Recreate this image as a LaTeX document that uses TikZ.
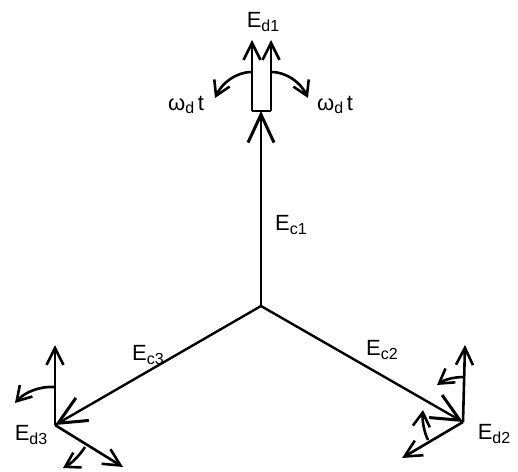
\documentclass[tikz,border=0pt]{standalone}
\usepackage{fontspec}
\setmainfont{Liberation Sans}
\usetikzlibrary{arrows.meta}
\newcommand{\lsub}[1]{\raisebox{-0.3ex}{\fontsize{16}{16}\selectfont #1}}
\tikzset{
  vec/.style={line width=2.6pt, -{Straight Barb[length=17pt,width=17pt,line width=2.6pt]}},
  bigvec/.style={line width=2.4pt, -{Straight Barb[length=28pt,width=26pt,line width=3pt]}},
  rot/.style={line width=2.6pt, -{Straight Barb[length=14pt,width=17pt,line width=2.6pt]}},
  lab/.style={font=\fontsize{22}{22}\selectfont, inner sep=0pt}
}
\begin{document}
\begin{tikzpicture}[x=1pt,y=-1pt]
\useasboundingbox (0,0) rectangle (518,471);
% points
\coordinate (o) at (261,306);
\coordinate (rb) at (261,111);
\coordinate (rl) at (252,111);
\coordinate (rr) at (271,111);
\coordinate (tl) at (252,40);
\coordinate (tr) at (271,40);
\coordinate (d3) at (55,425);
\coordinate (d3u) at (55,345);
\coordinate (d3r) at (123,467);
\coordinate (d2) at (463,422);
\coordinate (d2u) at (465,345);
\coordinate (d2l) at (402,458);
% main lines
\draw[bigvec] (o) -- (rb);
\draw[line width=2.6pt] (rl) -- (rr);
\draw[vec] (rl) -- (tl);
\draw[vec] (rr) -- (tr);
\draw[bigvec] (o) -- (d3);
\draw[bigvec] (o) -- (d2);
\draw[vec] (d3) -- (d3u);
\draw[vec] (d3) -- (d3r);
\draw[vec] (d2) -- (d2u);
\draw[vec] (d2) -- (d2l);
% rotation arrows
\coordinate (c1a) at (252,72); \coordinate (c1b) at (215,98);
\coordinate (c2a) at (271,72); \coordinate (c2b) at (308,98);
\draw[rot] (c1a) .. controls (236,72) and (222,83) .. (c1b);
\draw[rot] (c2a) .. controls (287,72) and (301,83) .. (c2b);
\coordinate (c3a) at (55,387); \coordinate (c3b) at (15,403);
\draw[rot] (c3a) .. controls (40,386) and (25,392) .. (c3b);
\coordinate (c4a) at (85,447); \coordinate (c4b) at (63,468);
\draw[rot] (c4a) .. controls (80,455) and (72,463) .. (c4b);
\coordinate (c5a) at (465,377); \coordinate (c5b) at (437,385);
\draw[rot] (c5a) .. controls (452,377) and (444,380) .. (c5b);
\coordinate (c6a) at (428,440); \coordinate (c6b) at (423,410);
\draw[rot] (c6a) .. controls (424,432) and (422,420) .. (c6b);
% labels
\node[lab] (ed1) at (263,22) {E\lsub{d1}};
\node[lab] (wl) at (186,105) {ω\lsub{d}\,t};
\node[lab] (wr) at (335,105) {ω\lsub{d}\,t};
\node[lab] (ec1) at (291,225) {E\lsub{c1}};
\node[lab] (ec3) at (148,355) {E\lsub{c3}};
\node[lab] (ec2) at (382,350) {E\lsub{c2}};
\node[lab] (ed3) at (31,435) {E\lsub{d3}};
\node[lab] (ed2) at (494,434) {E\lsub{d2}};
\end{tikzpicture}
\end{document}
